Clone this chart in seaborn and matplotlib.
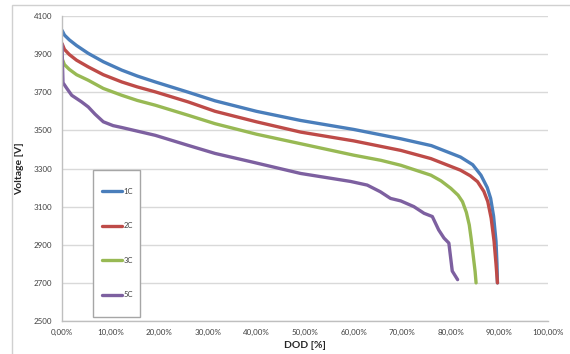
import pandas as pd
import matplotlib
matplotlib.use("Agg")
import matplotlib.pyplot as plt
from matplotlib.patches import Rectangle
from matplotlib.ticker import FuncFormatter, MultipleLocator
import seaborn as sns

#%% Dados (DOD em fração, tensão em mV)
dod_1c = [0, 0.005, 0.015, 0.03, 0.054, 0.085, 0.123, 0.155, 0.192, 0.26, 0.315,
          0.4, 0.491, 0.6, 0.697, 0.76, 0.82, 0.845, 0.862, 0.875, 0.882, 0.888,
          0.893, 0.895, 0.896]
v_1c = [4025, 4000, 3975, 3945, 3904, 3860, 3816, 3785, 3754, 3700, 3655,
        3600, 3552, 3505, 3456, 3420, 3360, 3320, 3265, 3200, 3143, 3050,
        2919, 2800, 2700]

dod_2c = [0, 0.005, 0.015, 0.03, 0.054, 0.085, 0.123, 0.155, 0.192, 0.26, 0.315,
          0.4, 0.491, 0.6, 0.697, 0.759, 0.82, 0.84, 0.855, 0.868, 0.876, 0.883,
          0.889, 0.893, 0.896]
v_2c = [3956, 3925, 3898, 3868, 3833, 3792, 3754, 3728, 3702, 3649, 3600,
        3545, 3491, 3445, 3395, 3352, 3291, 3262, 3231, 3180, 3127, 3040,
        2919, 2800, 2700]

dod_3c = [0, 0.005, 0.015, 0.03, 0.054, 0.085, 0.123, 0.155, 0.192, 0.26, 0.315,
          0.4, 0.491, 0.6, 0.656, 0.697, 0.759, 0.78, 0.80, 0.815, 0.824, 0.832,
          0.838, 0.842, 0.845, 0.85, 0.852]
v_3c = [3877, 3845, 3820, 3792, 3763, 3720, 3684, 3657, 3632, 3579, 3535,
        3480, 3430, 3370, 3343, 3317, 3265, 3235, 3196, 3160, 3126, 3070,
        3004, 2930, 2867, 2760, 2700]

dod_5c = [0, 0.002, 0.01, 0.02, 0.04, 0.054, 0.068, 0.085, 0.105, 0.123, 0.192,
          0.26, 0.315, 0.388, 0.491, 0.594, 0.628, 0.655, 0.676, 0.697, 0.724,
          0.745, 0.762, 0.775, 0.786, 0.796, 0.803, 0.814]
v_5c = [3950, 3750, 3720, 3684, 3650, 3623, 3585, 3545, 3525, 3515, 3474,
        3421, 3379, 3336, 3274, 3232, 3213, 3178, 3143, 3130, 3100,
        3065, 3048, 2978, 2935, 2909, 2762, 2717]

series = ["1C", "2C", "3C", "5C"]
cores = ["#4a7ebb", "#be4b48", "#98b954", "#7d60a0"]
y_ticks = [2500, 2700, 2900, 3100, 3300, 3500, 3700, 3900, 4100]

#%% Montando dataframe longo
lista_dfs = []
for nome, x, y in zip(series, [dod_1c, dod_2c, dod_3c, dod_5c], [v_1c, v_2c, v_3c, v_5c]):
    lista_dfs.append(pd.DataFrame({"DOD": x, "Voltage": y, "Serie": nome}))
df = pd.concat(lista_dfs, ignore_index=True)

#%% Gráfico
sns.set_style("white")
plt.rcParams["font.family"] = ["Lato", "DejaVu Sans"]

fig = plt.figure(figsize=(5.7, 3.54), dpi=100)
ax = fig.add_axes([62 / 570, 1 - 321 / 354, (548 - 62) / 570, (321 - 16) / 354])

sns.lineplot(data=df, x="DOD", y="Voltage", hue="Serie", palette=cores,
             sort=False, estimator=None, linewidth=2.4, ax=ax, legend=True)

ax.set_xlim(0, 1)
ax.set_ylim(2500, 4100)
ax.xaxis.set_major_locator(MultipleLocator(0.1))
ax.set_yticks(y_ticks)
ax.xaxis.set_major_formatter(FuncFormatter(lambda v, p: f"{v * 100:.2f}%".replace(".", ",")))
ax.yaxis.grid(True, color="#d9d9d9", linewidth=1)
ax.xaxis.grid(False)
ax.set_axisbelow(True)
for lado in ["top", "right"]:
    ax.spines[lado].set_visible(False)
for lado in ["left", "bottom"]:
    ax.spines[lado].set_color("#bfbfbf")
    ax.spines[lado].set_linewidth(1)
ax.tick_params(axis="both", length=0, labelsize=5.8, labelcolor="#404040")
ax.tick_params(axis="y", pad=7)
ax.tick_params(axis="x", pad=6)

ax.set_xlabel("DOD [%]", fontsize=7.5, fontweight="bold", labelpad=3)
ax.set_ylabel("Voltage [V]", fontsize=7.5, fontweight="bold", labelpad=7)

# caixa da legenda
ax.add_patch(Rectangle((0.064, 0.013), 0.097, 0.482, transform=ax.transAxes,
                       facecolor="white", edgecolor="#a6a6a6", linewidth=1, zorder=4))
leg = ax.legend(loc="center", bbox_to_anchor=(0.114, 0.255), frameon=False,
                fontsize=5.5, labelspacing=3.6, handlelength=2.6, handletextpad=0.2,
                borderpad=0)
leg.set_zorder(5)
for linha in leg.get_lines():
    linha.set_linewidth(2.4)
for t in leg.get_texts():
    t.set_color("#404040")

# borda externa do gráfico
fig.add_artist(Rectangle((12 / 570, -0.1), 2, 1 - 5 / 354 + 0.1, transform=fig.transFigure,
                         fill=False, edgecolor="#d0d0d0", linewidth=1))

plt.savefig("out.png", dpi=100)
plt.close()
